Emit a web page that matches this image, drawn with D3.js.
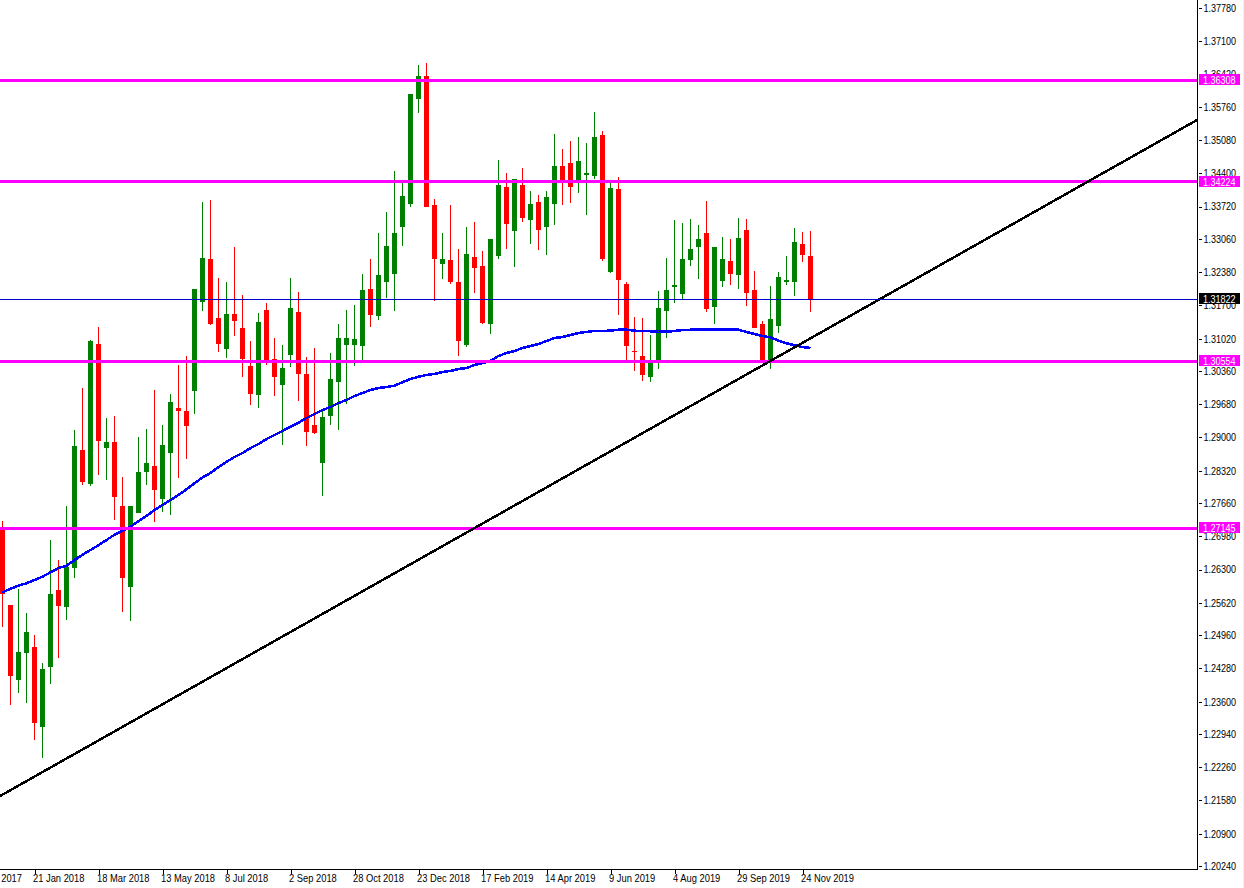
<!DOCTYPE html>
<html>
<head>
<meta charset="utf-8">
<script src="https://cdn.jsdelivr.net/npm/d3@7"></script>
<style>
  html, body { margin: 0; padding: 0; background: #fff; overflow: hidden; }
  svg { display: block; }
  text { font-family: "Liberation Sans", Arial, sans-serif; font-size: 10.5px; fill: #000; }
</style>
</head>
<body>
<script>
// weekly candles
var opens = [1.27149,1.25576,1.24043,1.24595,1.24717,1.23081,1.24308,1.25882,1.25535,1.26331,
  1.28744,1.28049,1.30911,1.28784,1.28907,1.27599,1.25944,1.27457,1.28294,1.28416,
  1.27742,1.28683,1.29602,1.29542,1.29951,1.31770,1.32649,1.31443,1.30809,1.31525,
  1.31238,1.30461,1.29869,1.31607,1.30605,1.30074,1.30687,1.31566,1.30298,1.29255,
  1.28478,1.29439,1.30135,1.30891,1.30891,1.30870,1.32036,1.31484,1.32179,1.32342,
  1.33303,1.33773,1.35920,1.36390,1.33753,1.32546,1.32628,1.32179,1.30891,1.32690,
  1.32505,1.31320,1.32710,1.34121,1.33222,1.34162,1.33446,1.33814,1.33303,1.33773,
  1.34549,1.34611,1.34244,1.34366,1.34345,1.35184,1.32383,1.34080,1.32138,1.30768,
  1.30666,1.30237,1.30584,1.31587,1.32077,1.31933,1.32628,1.32894,1.33181,1.31668,
  1.32199,1.32608,1.32322,1.33242,1.32015,1.31320,1.30564,1.31279,1.32179,1.32179,
  1.32955,1.32710];
var closes = [1.25800,1.24124,1.24615,1.25024,1.23163,1.24267,1.25800,1.25555,1.26352,1.28825,
  1.28090,1.30973,1.28928,1.28907,1.27783,1.26127,1.27599,1.28294,1.28478,1.27926,
  1.28846,1.29725,1.29542,1.29234,1.32036,1.32669,1.31320,1.30911,1.31525,1.31382,
  1.30605,1.29889,1.31361,1.30543,1.30237,1.30420,1.31647,1.30298,1.29112,1.29092,
  1.29419,1.30196,1.31034,1.31034,1.31013,1.32015,1.31505,1.32322,1.32914,1.33181,
  1.33936,1.36022,1.36390,1.33712,1.32649,1.32649,1.32179,1.30973,1.32751,1.32464,
  1.31340,1.33058,1.34162,1.33364,1.34284,1.33487,1.33773,1.33242,1.33916,1.34549,
  1.34223,1.34121,1.34652,1.34407,1.35143,1.32649,1.34100,1.32220,1.30870,1.30748,
  1.30278,1.30584,1.31647,1.32015,1.32118,1.32649,1.32853,1.33058,1.31627,1.32894,
  1.32649,1.32342,1.33079,1.31954,1.31238,1.30543,1.31423,1.32281,1.32220,1.32996,
  1.32730,1.31822];
var highs = [1.27293,1.25576,1.25903,1.25413,1.24963,1.24390,1.26904,1.26495,1.27599,1.29153,
  1.30012,1.30993,1.31259,1.29398,1.29439,1.28192,1.27599,1.29010,1.29173,1.29971,
  1.29255,1.29889,1.30482,1.30666,1.32036,1.33814,1.33855,1.32260,1.32179,1.32894,
  1.31913,1.30973,1.31546,1.31750,1.31034,1.30891,1.32260,1.31974,1.30646,1.30829,
  1.29562,1.30728,1.31320,1.31607,1.31709,1.32342,1.32649,1.33181,1.33610,1.34448,
  1.34264,1.36022,1.36615,1.36656,1.33875,1.33181,1.33753,1.32853,1.33303,1.33405,
  1.32813,1.33058,1.34672,1.34407,1.34284,1.34508,1.34039,1.33957,1.34039,1.35204,
  1.34897,1.35061,1.35143,1.35020,1.35654,1.35265,1.34244,1.34325,1.32179,1.31464,
  1.31443,1.31095,1.31995,1.32669,1.33446,1.33385,1.33466,1.33344,1.33834,1.32894,
  1.33100,1.33058,1.33487,1.33466,1.32404,1.31382,1.32097,1.32383,1.32710,1.33283,
  1.33201,1.33222];
var lows = [1.25126,1.23531,1.23777,1.23572,1.22815,1.22447,1.23961,1.24492,1.25269,1.26127,
  1.28029,1.28008,1.28233,1.28131,1.27313,1.25433,1.25248,1.27457,1.28029,1.27272,
  1.27477,1.27416,1.28171,1.28560,1.29480,1.31587,1.31299,1.30748,1.30625,1.31075,
  1.30237,1.29664,1.29602,1.30482,1.29848,1.28846,1.30441,1.29746,1.28825,1.29071,
  1.27803,1.29255,1.29153,1.29684,1.30461,1.30584,1.31259,1.31402,1.31851,1.31587,
  1.32914,1.33712,1.35634,1.33712,1.31790,1.32240,1.32138,1.30666,1.30850,1.31954,
  1.31320,1.31116,1.32649,1.32853,1.32485,1.33405,1.32955,1.32833,1.32730,1.33344,
  1.33753,1.33794,1.33998,1.33549,1.34284,1.32608,1.32363,1.31505,1.30564,1.30360,
  1.30155,1.30135,1.30400,1.31034,1.31750,1.31831,1.32505,1.32240,1.31566,1.31320,
  1.32077,1.32118,1.32036,1.31688,1.31238,1.30543,1.30400,1.31136,1.32118,1.31892,
  1.32588,1.31566];
// blue moving average
var maLine = [1.25831,1.25909,1.25970,1.26020,1.26087,1.26154,1.26244,1.26331,1.26378,1.26495,
  1.26604,1.26700,1.26796,1.26904,1.27013,1.27095,1.27176,1.27287,1.27395,1.27518,
  1.27620,1.27722,1.27824,1.27941,1.28064,1.28182,1.28274,1.28396,1.28504,1.28601,
  1.28683,1.28784,1.28866,1.28968,1.29051,1.29133,1.29220,1.29302,1.29398,1.29480,
  1.29562,1.29623,1.29705,1.29766,1.29848,1.29910,1.29971,1.30012,1.30032,1.30059,
  1.30130,1.30196,1.30243,1.30278,1.30298,1.30339,1.30360,1.30400,1.30420,1.30482,
  1.30523,1.30564,1.30666,1.30728,1.30768,1.30829,1.30870,1.30911,1.30973,1.31034,
  1.31054,1.31095,1.31136,1.31157,1.31177,1.31177,1.31185,1.31203,1.31203,1.31183,
  1.31177,1.31171,1.31163,1.31163,1.31177,1.31197,1.31203,1.31203,1.31203,1.31203,
  1.31203,1.31203,1.31203,1.31157,1.31116,1.31075,1.31048,1.30979,1.30926,1.30885,
  1.30850,1.30829];

var levels = [1.36308, 1.34224, 1.30554, 1.27145];
var lastPrice = 1.31822;
var trendIndex = [-0.31, 149.31];
var trendPrice = [1.2167, 1.3549];

var yTicks = [1.3778,1.371,1.3642,1.3576,1.3508,1.344,1.3372,1.3306,1.3238,1.317,1.3102,1.3036,1.2968,
  1.29,1.2832,1.2766,1.2698,1.263,1.2562,1.2496,1.2428,1.236,1.2294,1.2226,1.2158,1.209,1.2024];
var xTickIndex = [-4,4,12,20,28,36,44,52,60,68,76,84,92,100];
var xTickLabels = ["26 Nov 2017","21 Jan 2018","18 Mar 2018","13 May 2018","8 Jul 2018","2 Sep 2018",
  "28 Oct 2018","23 Dec 2018","17 Feb 2019","14 Apr 2019","9 Jun 2019","4 Aug 2019","29 Sep 2019","24 Nov 2019"];

var W = 1244, H = 888;
var plotR = 1197, plotB = 869;

var svg = d3.select("body").append("svg").attr("width", W).attr("height", H);
svg.append("rect").attr("width", W).attr("height", H).attr("fill", "#fff");

var xS = d3.scaleLinear().domain([0, 101]).range([2.5, 810.5]);
var yS = d3.scaleLinear().domain([1.3778, 1.2024]).range([8, 866]);

svg.append("clipPath").attr("id", "plot").append("rect")
  .attr("width", plotR).attr("height", plotB);
var plot = svg.append("g").attr("clip-path", "url(#plot)");

var candles = plot.selectAll("g.c").data(opens).enter().append("g")
  .attr("class", "c")
  .attr("shape-rendering", "crispEdges");
function col(i) { return closes[i] < opens[i] ? "#ff0000" : "#008000"; }
candles.append("line")
  .attr("x1", function(d, i) { return xS(i); })
  .attr("x2", function(d, i) { return xS(i); })
  .attr("y1", function(d, i) { return yS(highs[i]); })
  .attr("y2", function(d, i) { return yS(lows[i]); })
  .attr("stroke", function(d, i) { return col(i); });
candles.append("rect")
  .attr("x", function(d, i) { return xS(i) - 2.5; })
  .attr("width", 5)
  .attr("y", function(d, i) { return yS(Math.max(opens[i], closes[i])); })
  .attr("height", function(d, i) { return Math.max(1, Math.abs(yS(opens[i]) - yS(closes[i]))); })
  .attr("fill", function(d, i) { return col(i); });

// the terminal draws without antialiasing, so crispEdges on the lines too
var line = d3.line().x(function(d, i) { return xS(i); }).y(function(d) { return yS(d); });
plot.append("path").datum(maLine)
  .attr("d", line).attr("fill", "none").attr("stroke", "#0000ff").attr("stroke-width", 2.5)
  .attr("shape-rendering", "crispEdges");

plot.selectAll("line.level").data(levels).enter().append("line")
  .attr("class", "level")
  .attr("x1", 0).attr("x2", plotR)
  .attr("y1", function(d) { return yS(d); })
  .attr("y2", function(d) { return yS(d); })
  .attr("stroke", "#ff00ff").attr("stroke-width", 3)
  .attr("shape-rendering", "crispEdges");

plot.append("line")
  .attr("x1", xS(trendIndex[0])).attr("y1", yS(trendPrice[0]))
  .attr("x2", xS(trendIndex[1])).attr("y2", yS(trendPrice[1]))
  .attr("stroke", "#000").attr("stroke-width", 2.5)
  .attr("shape-rendering", "crispEdges");

plot.append("line")
  .attr("x1", 0).attr("x2", plotR)
  .attr("y1", Math.floor(yS(lastPrice)) + 0.5).attr("y2", Math.floor(yS(lastPrice)) + 0.5)
  .attr("stroke", "#0000c8").attr("shape-rendering", "crispEdges");

// tahoma is not installed, narrow the text a bit so widths come out the same
function squeeze(sel, k) {
  sel.each(function() {
    d3.select(this).attr("textLength", this.getComputedTextLength() * k)
      .attr("lengthAdjust", "spacingAndGlyphs");
  });
}

var yAxis = d3.axisRight(yS).tickValues(yTicks).tickSize(4).tickPadding(2)
  .tickFormat(function(d) { return d.toFixed(5); });
var yG = svg.append("g").attr("transform", "translate(" + (plotR + 0.5) + ",0)").call(yAxis);
yG.select(".domain").remove();
yG.selectAll("line").attr("x1", 1.5).attr("x2", 4.5).attr("stroke", "#000").attr("shape-rendering", "crispEdges");
yG.selectAll("text").attr("font-family", null).attr("font-size", null).call(squeeze, 0.86);

var xAxis = d3.axisBottom(xS).tickValues(xTickIndex).tickSize(4)
  .tickFormat(function(d) { return xTickLabels[xTickIndex.indexOf(d)]; });
var xG = svg.append("g").attr("transform", "translate(0," + (plotB + 0.5) + ")").call(xAxis);
xG.select(".domain").remove();
xG.selectAll("line").attr("stroke", "#000").attr("shape-rendering", "crispEdges");
xG.selectAll("text").style("text-anchor", "start").attr("x", -2).attr("y", 5).call(squeeze, 0.89);

svg.append("line").attr("x1", plotR + 0.5).attr("x2", plotR + 0.5).attr("y1", 0).attr("y2", plotB + 1)
  .attr("stroke", "#000").attr("shape-rendering", "crispEdges");
svg.append("line").attr("x1", 0).attr("x2", plotR + 1).attr("y1", plotB + 0.5).attr("y2", plotB + 0.5)
  .attr("stroke", "#000").attr("shape-rendering", "crispEdges");

// price tags on the right axis
var tags = levels.map(function(d) { return { v: d, bg: "#ff00ff" }; }).concat([{ v: lastPrice, bg: "#000" }]);
var tag = svg.selectAll("g.tag").data(tags).enter().append("g").attr("class", "tag");
tag.append("rect")
  .attr("x", plotR + 2).attr("width", 41).attr("height", 11)
  .attr("y", function(d) { return Math.round(yS(d.v)) - 6; })
  .attr("fill", function(d) { return d.bg; })
  .attr("shape-rendering", "crispEdges");
tag.append("text")
  .attr("x", plotR + 6)
  .attr("y", function(d) { return yS(d.v); })
  .attr("dy", "0.34em")
  .style("fill", "#fff")
  .text(function(d) { return d.v.toFixed(5); })
  .call(squeeze, 0.86);

svg.append("rect").attr("x", 1243).attr("width", 1).attr("height", H).attr("fill", "#f0f0f0");
</script>
</body>
</html>
